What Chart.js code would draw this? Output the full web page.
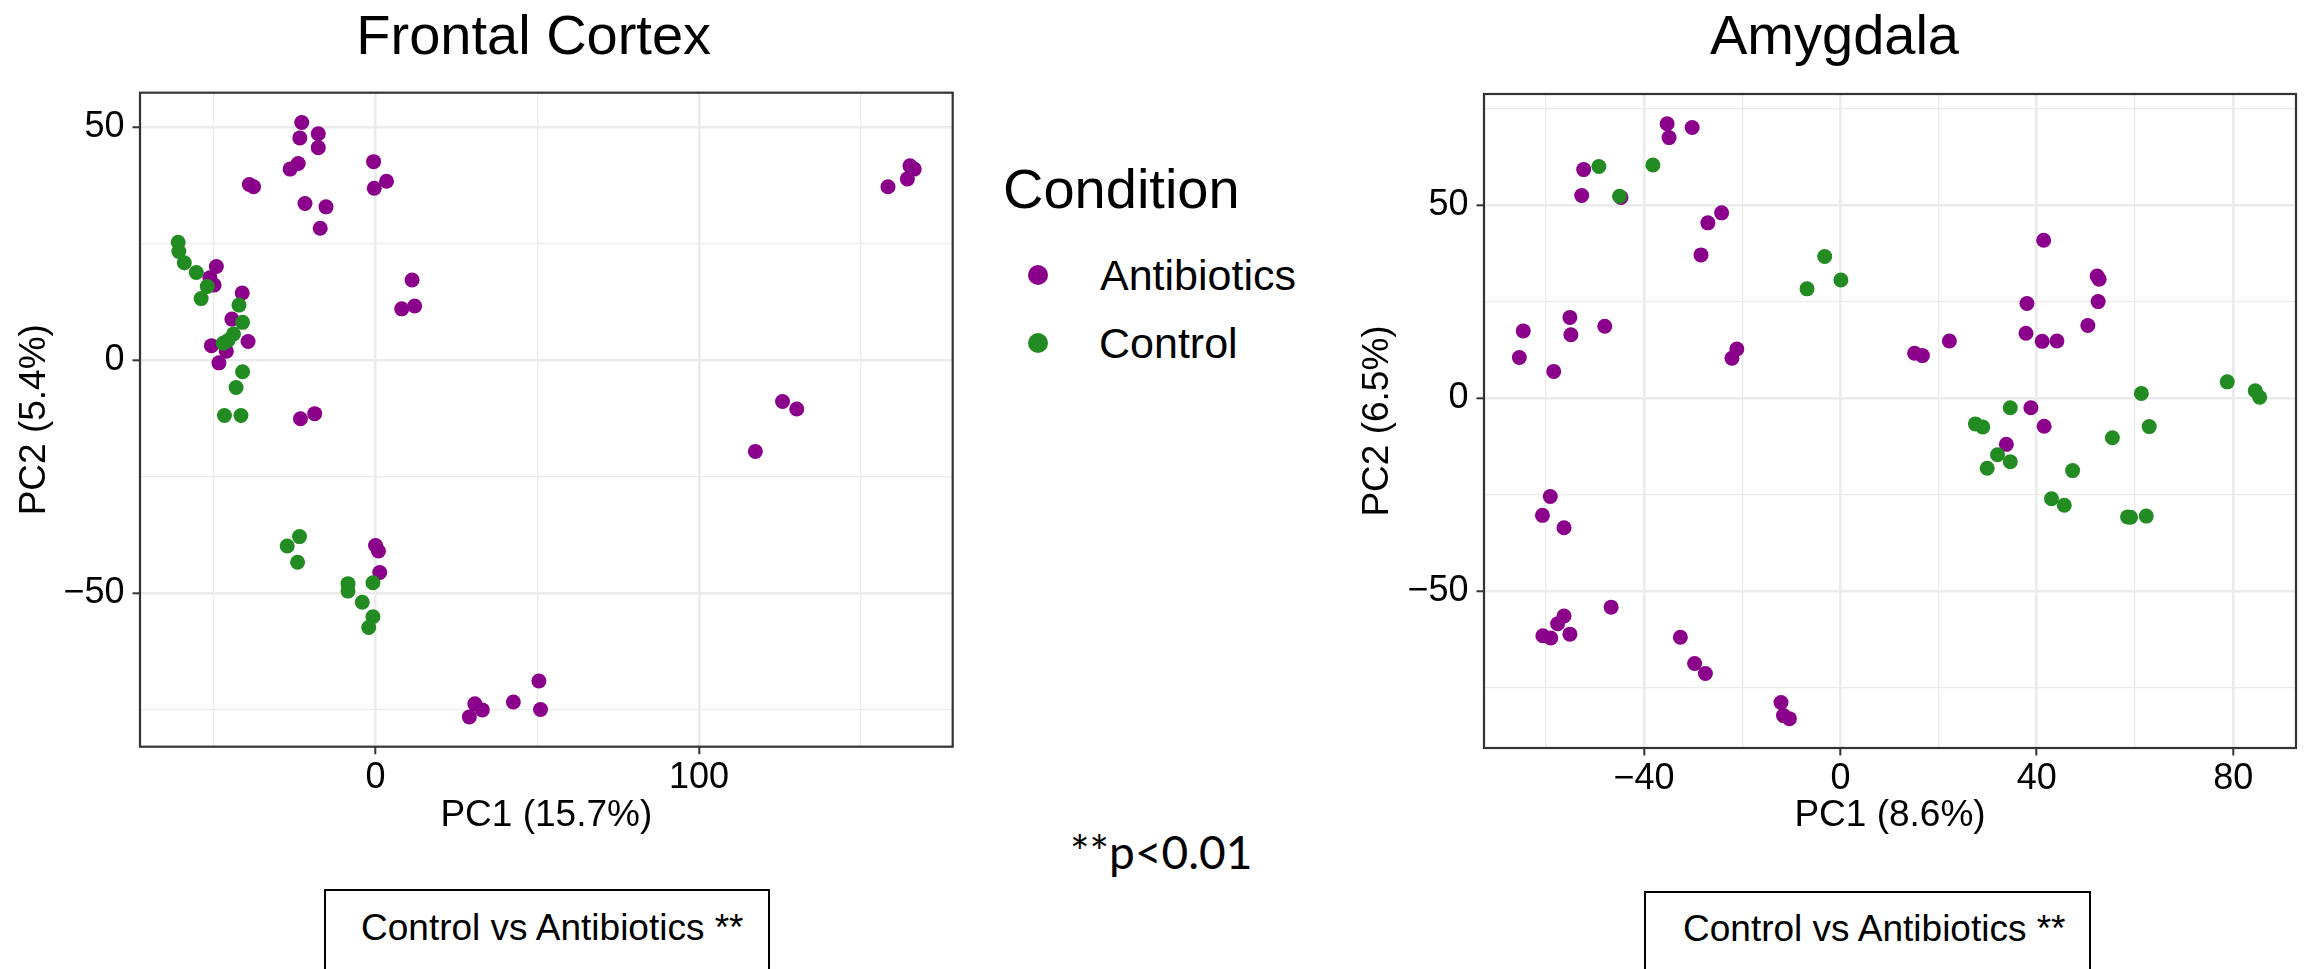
<!DOCTYPE html>
<html>
<head>
<meta charset="utf-8">
<script src="https://cdn.jsdelivr.net/npm/chart.js@4.4.1/dist/chart.umd.min.js"></script>
<style>
    body { margin: 0; width: 2313px; height: 969px; overflow: hidden; background: #fff; position: relative;
           font-family: 'Liberation Sans', Arial, sans-serif; }
    canvas { position: absolute; top: 0; }
    .txt { position: absolute; line-height: 1; white-space: nowrap; color: #000; }
    .key { position: absolute; width: 20px; height: 20px; border-radius: 50%; }
    .box { position: absolute; border: 2px solid #000; height: 200px; box-sizing: border-box; }
</style>
</head>
<body>
<div class="txt" style="left:533.7px;top:6.6px;font-size:56px;transform:translateX(-50%)">Frontal Cortex</div>
<div class="txt" style="left:1834.5px;top:6.6px;font-size:56px;transform:translateX(-50%)">Amygdala</div>

<canvas id="chartFrontal" width="1000" height="880" style="left:0"></canvas>
<canvas id="chartAmygdala" width="973" height="880" style="left:1340px"></canvas>

<div class="txt" style="left:1003px;top:160.6px;font-size:56px">Condition</div>
<div class="key" style="left:1028px;top:265px;background:#8B008B"></div>
<div class="txt" style="left:1100px;top:254px;font-size:43px">Antibiotics</div>
<div class="key" style="left:1028px;top:333px;background:#228B22"></div>
<div class="txt" style="left:1099px;top:322px;font-size:43px">Control</div>

<div class="txt" style="left:1070px;top:829px;font-size:46px;font-family:Lato,'Open Sans',sans-serif">**p&lt;0.01</div>

<div class="box" style="left:324px;top:889px;width:446px"></div>
<div class="txt" style="left:361px;top:908.7px;font-size:37px">Control vs Antibiotics **</div>
<div class="box" style="left:1644px;top:891px;width:447px"></div>
<div class="txt" style="left:1683px;top:909.7px;font-size:37px">Control vs Antibiotics **</div>

<script>
// Frontal Cortex PCA scores [PC1, PC2]
const fcAntibiotics = [
    [-22.8, 51.0], [-23.4, 47.7], [-17.7, 48.6], [-17.7, 45.6], [-26.4, 41.0], [-23.9, 42.2],
    [-0.6, 42.6], [-0.4, 36.9], [3.4, 38.4], [-39.0, 37.7], [-37.7, 37.2], [-21.8, 33.6],
    [-15.3, 32.9], [-17.1, 28.3], [11.3, 17.2], [8.1, 11.0], [12.1, 11.6], [-49.2, 20.1],
    [-51.2, 17.7], [-49.9, 16.1], [-41.2, 14.4], [-44.4, 8.8], [-39.4, 4.0], [-50.7, 3.1],
    [-46.1, 1.9], [-48.4, -0.6], [-23.2, -12.6], [-18.8, -11.5], [0.0, -39.8], [0.9, -41.0],
    [1.3, -45.6], [30.7, -73.8], [33.0, -75.1], [29.0, -76.6], [42.6, -73.4], [50.5, -68.9],
    [51.0, -75.0], [117.4, -19.6], [125.8, -8.9], [130.2, -10.5], [158.4, 37.2], [164.4, 38.9],
    [165.2, 41.7], [166.5, 41.0]
];
const fcControl = [
    [-61.0, 25.3], [-60.8, 23.3], [-59.1, 20.9], [-55.4, 18.8], [-52.0, 15.8], [-53.9, 13.2],
    [-42.2, 11.8], [-41.1, 8.1], [-43.9, 5.6], [-45.6, 4.2], [-47.1, 3.6], [-41.1, -2.5],
    [-43.1, -5.9], [-46.7, -11.9], [-41.6, -11.9], [-27.3, -39.9], [-23.5, -37.9], [-24.1, -43.4],
    [-8.5, -48.0], [-8.5, -49.6], [-0.8, -47.8], [-4.1, -52.0], [-0.8, -55.1], [-2.1, -57.4]
];

// Amygdala PCA scores [PC1, PC2]
const amAntibiotics = [
    [-35.3, 71.1], [-34.9, 67.5], [-30.2, 70.1], [-52.3, 59.2], [-52.7, 52.5], [-44.7, 52.0],
    [-24.2, 48.0], [-27.0, 45.4], [-28.4, 37.1], [41.4, 40.9], [52.3, 31.6], [52.7, 30.8],
    [52.5, 25.0], [38.0, 24.5], [50.4, 18.8], [37.8, 16.8], [41.1, 14.7], [44.1, 14.8],
    [22.2, 14.8], [15.1, 11.6], [16.7, 11.0], [-55.1, 20.9], [-54.9, 16.4], [-48.0, 18.6],
    [-64.6, 17.4], [-65.4, 10.5], [-58.4, 6.9], [-21.1, 12.7], [-22.1, 10.3], [38.8, -2.5],
    [41.5, -7.3], [33.8, -12.0], [-59.1, -25.5], [-60.7, -30.4], [-56.3, -33.6], [-46.7, -54.2],
    [-56.3, -56.5], [-57.6, -58.5], [-60.6, -61.6], [-59.0, -62.2], [-55.1, -61.2], [-32.6, -62.0],
    [-29.7, -68.8], [-27.5, -71.4], [-12.1, -78.9], [-11.6, -82.3], [-10.4, -83.1]
];
const amControl = [
    [-49.2, 60.0], [-45.0, 52.3], [-38.2, 60.4], [-3.2, 36.7], [-6.8, 28.3], [0.1, 30.6],
    [34.6, -2.5], [27.5, -6.7], [29.0, -7.5], [32.0, -14.7], [34.6, -16.5], [29.9, -18.2],
    [47.3, -18.8], [55.4, -10.3], [43.0, -26.1], [45.6, -27.8], [58.5, -30.8], [59.1, -30.9],
    [62.3, -30.6], [61.3, 1.2], [62.9, -7.4], [78.8, 4.2], [84.5, 1.9], [85.4, 0.2]
];

// ticks: major get a label and tick mark, minor only a thin grid line
const fcXMajor = [0, 100];
const fcXMinor = [-50, 50, 150];
const fcYMajor = [-50, 0, 50];
const fcYMinor = [-75, -25, 25];
const amXMajor = [-40, 0, 40, 80];
const amXMinor = [-60, -20, 20, 60];
const amYMajor = [-50, 0, 50];
const amYMinor = [-75, -25, 25, 75];

const purple = '#8B008B';
const green = '#228B22';

Chart.defaults.font.family = "'Liberation Sans', Arial, sans-serif";
Chart.defaults.color = '#000';

const panelBorder = {
    id: 'panelBorder',
    afterDatasetsDraw(chart) {
        const a = chart.chartArea;
        const ctx = chart.ctx;
        ctx.save();
        ctx.strokeStyle = '#333333';
        ctx.lineWidth = 2.2;
        ctx.strokeRect(a.left, a.top, a.right - a.left, a.bottom - a.top);
        ctx.restore();
    }
};

function toPoints(pairs) {
    return pairs.map(p => ({x: p[0], y: p[1]}));
}

function axisOptions(major, minor, range, title, extra) {
    const all = major.concat(minor).sort((a, b) => a - b);
    return Object.assign({
        type: 'linear',
        min: range[0],
        max: range[1],
        afterBuildTicks: scale => { scale.ticks = all.map(v => ({value: v})); },
        border: {display: false},
        grid: {
            color: '#EBEBEB',
            lineWidth: c => major.includes(c.tick.value) ? 2.6 : 1.3,
            drawTicks: true,
            tickLength: 7.5,
            tickWidth: 2,
            tickColor: c => major.includes(c.tick.value) ? '#333333' : 'rgba(0,0,0,0)'
        },
        ticks: {
            font: {size: 36},
            color: '#000',
            callback: v => major.includes(v) ? String(v).replace('-', '\u2212') : ''
        },
        title: {display: true, text: title, font: {size: 37}, color: '#000'}
    }, extra);
}

function createPcaChart(chartId, antibiotics, control, cfg) {
    let existingChart = Chart.getChart(chartId);
    if (existingChart) {
        existingChart.destroy();
    }

    const xAxis = axisOptions(cfg.xMajor, cfg.xMinor, cfg.xRange, cfg.xTitle, {position: 'bottom'});
    xAxis.ticks.padding = 2;
    xAxis.title.padding = {top: 0, bottom: 41.8};
    xAxis.afterFit = scale => { scale.height = cfg.xAxisHeight; };

    const yAxis = axisOptions(cfg.yMajor, cfg.yMinor, cfg.yRange, cfg.yTitle, {position: 'left'});
    yAxis.ticks.padding = 8;
    yAxis.title.padding = {top: cfg.yTitlePad, bottom: 0};
    yAxis.afterFit = scale => { scale.width = cfg.yAxisWidth; };

    let ctx = document.getElementById(chartId).getContext('2d');
    new Chart(ctx, {
        type: 'scatter',
        data: {
            datasets: [
                {
                    label: 'Antibiotics',
                    data: toPoints(antibiotics),
                    backgroundColor: purple,
                    borderWidth: 0,
                    pointRadius: 7.5,
                    order: 2
                }, {
                    label: 'Control',
                    data: toPoints(control),
                    backgroundColor: green,
                    borderWidth: 0,
                    pointRadius: 7.5,
                    order: 1
                }
            ]
        },
        options: {
            responsive: false,
            animation: false,
            devicePixelRatio: 1,
            layout: {padding: cfg.padding},
            plugins: {
                legend: {display: false},
                tooltip: {enabled: false},
                title: {display: false}
            },
            scales: {x: xAxis, y: yAxis}
        },
        plugins: [panelBorder]
    });
}

createPcaChart('chartFrontal', fcAntibiotics, fcControl, {
    xMajor: fcXMajor, xMinor: fcXMinor, xRange: [-72.8, 178.4], xTitle: 'PC1 (15.7%)',
    yMajor: fcYMajor, yMinor: fcYMinor, yRange: [-83.0, 57.4], yTitle: 'PC2 (5.4%)',
    padding: {left: 0, right: 47.3, top: 92.7, bottom: 0},
    yAxisWidth: 140, xAxisHeight: 133.3, yTitlePad: 12.8
});

createPcaChart('chartAmygdala', amAntibiotics, amControl, {
    xMajor: amXMajor, xMinor: amXMinor, xRange: [-72.6, 92.8], xTitle: 'PC1 (8.6%)',
    yMajor: amYMajor, yMinor: amYMinor, yRange: [-90.7, 78.8], yTitle: 'PC2 (6.5%)',
    padding: {left: 0, right: 17, top: 94, bottom: 0},
    yAxisWidth: 144, xAxisHeight: 132, yTitlePad: 15.8
});
</script>
</body>
</html>
